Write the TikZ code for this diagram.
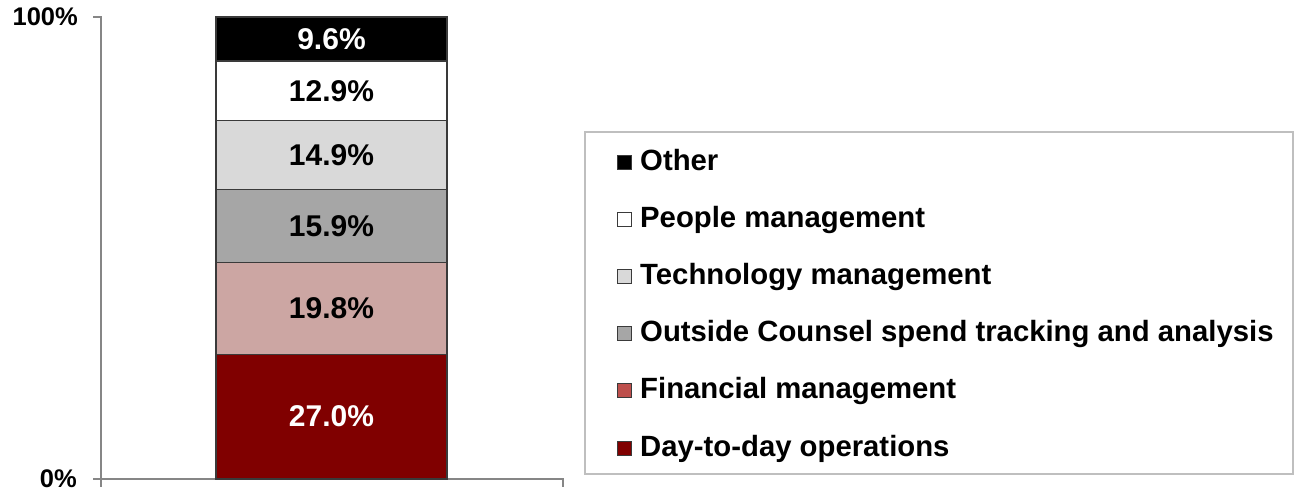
\documentclass[tikz,border=0pt]{standalone}
\usepackage{fontspec}
\setmainfont{Liberation Sans}
\definecolor{segdarkred}{HTML}{800000}
\definecolor{segpink}{HTML}{CCA6A3}
\definecolor{seggray}{HTML}{A6A6A6}
\definecolor{seglight}{HTML}{D9D9D9}
\definecolor{legfin}{HTML}{BD4F4C}
\definecolor{axisgray}{HTML}{868686}
\definecolor{legborder}{HTML}{BFBFBF}
\definecolor{segline}{HTML}{3A3A3A}
\tikzset{
  seg/.style={draw=segline, line width=1.3pt},
  barlabel/.style={inner sep=0pt, font=\fontsize{30}{30}\selectfont\bfseries},
  axislabel/.style={inner sep=0pt, anchor=east, font=\fontsize{25.5}{25.5}\selectfont\bfseries},
  legtext/.style={inner sep=0pt, anchor=base west, font=\fontsize{29.3}{29.3}\selectfont\bfseries},
  legsq/.style={draw=segline, line width=0.9pt, minimum width=14pt, minimum height=14pt, inner sep=0pt},
  axisline/.style={draw=axisgray, line width=1.6pt}
}
\begin{document}
\begin{tikzpicture}[x=1pt,y=-1pt]
\useasboundingbox (0,0) rectangle (1294,495);
% axes
\draw[axisline] (93,17) -- (101,17) -- (101,487);
\draw[axisline] (93,479) -- (563,479) -- (563,487);
\node[axislabel] (l100) at (78,17) {100\%};
\node[axislabel] (l0) at (77,479) {0\%};
% bar segments
\filldraw[seg, fill=segdarkred] (216,479) rectangle (447,354.3);
\filldraw[seg, fill=segpink] (216,354.3) rectangle (447,262.8);
\filldraw[seg, fill=seggray] (216,262.8) rectangle (447,189.3);
\filldraw[seg, fill=seglight] (216,189.3) rectangle (447,120.5);
\filldraw[seg, fill=white] (216,120.5) rectangle (447,60.9);
\filldraw[seg, fill=black] (216,60.9) rectangle (447,17);
\node[barlabel, text=white] (v1) at (331.5,416.6) {27.0\%};
\node[barlabel] (v2) at (331.5,308.5) {19.8\%};
\node[barlabel] (v3) at (331.5,226) {15.9\%};
\node[barlabel] (v4) at (331.5,155) {14.9\%};
\node[barlabel] (v5) at (331.5,90.7) {12.9\%};
\node[barlabel, text=white] (v6) at (331.5,39) {9.6\%};
% legend
\draw[draw=legborder, line width=1.4pt] (585,132) rectangle (1293,474);
\node[legsq, fill=black] (s1) at (624,162) {};
\node[legtext] (t1) at (640,170) {Other};
\node[legsq, fill=white] (s2) at (624,219.2) {};
\node[legtext] (t2) at (640,227.2) {People management};
\node[legsq, fill=seglight] (s3) at (624,276.4) {};
\node[legtext] (t3) at (640,284.4) {Technology management};
\node[legsq, fill=seggray] (s4) at (624,333.6) {};
\node[legtext] (t4) at (640,341.6) {Outside Counsel spend tracking and analysis};
\node[legsq, fill=legfin] (s5) at (624,390.8) {};
\node[legtext] (t5) at (640,398.8) {Financial management};
\node[legsq, fill=segdarkred] (s6) at (624,448) {};
\node[legtext] (t6) at (640,456) {Day-to-day operations};
\end{tikzpicture}
\end{document}
